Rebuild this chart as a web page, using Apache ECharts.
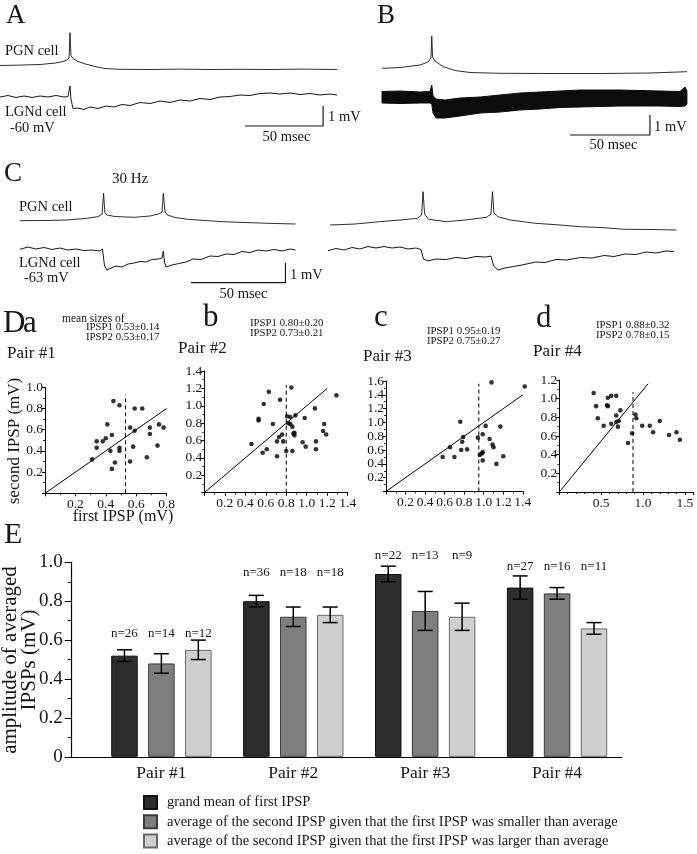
<!DOCTYPE html>
<html><head><meta charset="utf-8">
<script src="https://cdn.jsdelivr.net/npm/echarts@6/dist/echarts.min.js"></script>
<style>html,body{margin:0;padding:0;background:#fff}#c{width:697px;height:854px}</style>
</head><body><div id="c"></div><script>
// ---------------- DATA ----------------
// Panel A traces: [time ms, mV relative to baseline]
const pgnA = [[0,0.2],[12.8,0.22],[25.6,0.25],[35.2,0.32],[40.3,0.4],[42.9,0.48],[44.2,0.58],[44.8,1.84],[45.4,0.7],[46.7,0.55],[49.9,0.4],[54.4,0.28],[60.8,0.15],[67.2,0.05],[76.8,0.01],[96,0],[115.2,0.02],[134.4,0],[153.6,0.01],[172.8,0],[192,0.02],[215.7,0]];
const lgnA = [[0,0],[5.1,0.075],[10.2,-0.025],[15.4,0.05],[20.5,-0.025],[25.6,0.05],[30.7,0],[35.8,0.075],[41,0],[43.5,0.025],[44.8,0.55],[45.4,-0.1],[46.7,-0.575],[49.9,-0.55],[53.8,-0.625],[57.6,-0.5],[62.7,-0.575],[67.8,-0.45],[73,-0.5],[78.1,-0.375],[83.2,-0.425],[89.6,-0.275],[96,-0.325],[102.4,-0.2],[108.8,-0.275],[115.2,-0.15],[121.6,-0.2],[128,-0.075],[134.4,-0.125],[140.8,0],[147.2,0.025],[153.6,0.1],[160,0.075],[166.4,0.175],[172.8,0.2],[179.2,0.15],[185.6,0.2],[192,0.125],[198.4,0.175],[204.8,0.1],[211.2,0.15],[215.7,0.1]];
// Panel B traces
const pgnB = [[20,0.235],[31.3,0.275],[43.8,0.4],[48.8,0.55],[50.6,0.75],[51.1,1.85],[51.6,0.8],[53.1,0.6],[58.1,0.325],[65.6,0.125],[75,0.025],[93.8,-0.015],[125,-0.025],[156.3,-0.025],[187.5,0],[210.6,0.065]];
const lgnBUpper = [[20,0.3],[31.3,0.325],[43.8,0.275],[50,0.3],[51.1,0.625],[51.9,0.075],[53.8,-0.075],[59.4,-0.125],[68.8,-0.025],[81.3,0.025],[93.8,0.125],[106.3,0.225],[118.8,0.275],[131.3,0.325],[143.8,0.375],[156.3,0.375],[168.8,0.375],[181.3,0.35],[193.8,0.325],[206.3,0.3],[209.4,0.525],[210.6,0.325]];
const lgnBLower = [[20,-0.275],[31.3,-0.3],[43.8,-0.275],[50,-0.275],[51.1,-0.325],[51.9,-0.775],[53.8,-1.025],[59.4,-1.025],[68.8,-0.925],[81.3,-0.775],[93.8,-0.725],[106.3,-0.625],[118.8,-0.575],[131.3,-0.5],[143.8,-0.475],[156.3,-0.45],[168.8,-0.425],[181.3,-0.425],[193.8,-0.425],[206.3,-0.45],[209.4,-0.425],[210.6,-0.325]];
// Panel C traces (30 Hz)
const pgnC1 = [[10.6,0.065],[23.8,0.075],[35.4,0.1],[45,0.175],[51.8,0.265],[54,0.4],[54.8,1.435],[55.5,0.45],[56.6,0.35],[60.8,0.275],[70.9,0.235],[79.4,0.3],[83.8,0.4],[85.7,0.5],[86.4,1.435],[87.3,0.5],[88.6,0.35],[92.6,0.225],[99.2,0.135],[108.4,0.075],[118,0.015],[129.6,-0.025],[141.8,-0.065],[156.3,-0.1]];
const pgnC2 = [[174.6,-0.15],[187.8,-0.1],[200.8,0.015],[211.6,0.1],[220.8,0.185],[223,0.35],[223.8,1.515],[224.6,0.4],[226.7,0.135],[236.1,0.015],[246,0.1],[257.4,0.235],[259.7,0.4],[260.5,1.515],[261.3,0.45],[263.3,0.265],[269.8,0.1],[283.4,-0.065],[296.2,-0.15],[307,-0.235],[317.4,-0.275],[330.6,-0.365],[343.9,-0.375],[357.8,-0.4]];
const lgnC1 = [[10.6,0.035],[14.8,0.15],[19,0.05],[23.3,0.125],[27.5,0.025],[31.7,0.1],[36,0],[40.2,0.05],[44.4,-0.025],[48.7,0],[52.9,-0.05],[54.2,0.05],[54.8,0.1],[55.3,-0.8],[56.6,-1.0],[58.2,-0.925],[61.4,-0.8],[64.5,-0.85],[67.7,-0.7],[70.9,-0.65],[74.1,-0.575],[77.2,-0.6],[80.4,-0.475],[83.6,-0.45],[85.7,-0.4],[86.4,-0.05],[87,-0.6],[87.8,-0.85],[91,-0.75],[94.5,-0.675],[98.4,-0.6],[102.1,-0.45],[106.3,-0.475],[111.1,-0.3],[115.3,-0.325],[119.6,-0.2],[123.8,-0.225],[128,-0.075],[132.3,-0.125],[136.5,0],[140.7,-0.05],[144.9,0.025],[149.2,-0.05],[153.4,0.05],[156.3,0]];
const lgnC2 = [[173.5,-0.035],[177.7,0.075],[182,0],[186.2,0.125],[190.4,0.05],[194.7,0.175],[198.9,0.1],[203.1,0.175],[207.4,0.1],[211.6,0.15],[215.8,0.05],[220.1,0.1],[222.7,0.025],[223.4,0.05],[224,-0.45],[226.4,-0.55],[230.6,-0.45],[236.1,-0.475],[241.2,-0.375],[246.5,-0.425],[251.8,-0.325],[257.1,-0.35],[259.7,-0.3],[260.5,-0.25],[261.1,-0.8],[263.4,-1.0],[267.1,-0.9],[271.6,-0.825],[276.1,-0.75],[283.4,-0.6],[288.3,-0.625],[294.1,-0.475],[299.9,-0.5],[307,-0.375],[313.2,-0.4],[319.5,-0.275],[324.8,-0.325],[330.6,-0.2],[336.4,-0.225],[341.7,-0.1],[347,-0.15],[352.3,-0.05],[356.5,-0.075]];
const scaleBarMs = 50, scaleBarMv = 1;

// Panel D scatter: [first IPSP, second IPSP] (mV)
const pair1 = [[0.31,0.32],[0.34,0.43],[0.34,0.49],[0.38,0.49],[0.40,0.52],[0.41,0.65],[0.43,0.40],[0.44,0.55],[0.44,0.23],[0.45,0.87],[0.46,0.29],[0.49,0.83],[0.49,0.43],[0.49,0.40],[0.56,0.62],[0.56,0.30],[0.58,0.44],[0.59,0.80],[0.59,0.59],[0.64,0.80],[0.67,0.34],[0.69,0.62],[0.69,0.56],[0.74,0.45],[0.75,0.65],[0.78,0.62]];
const pair2 = [[0.46,0.56],[0.53,0.85],[0.53,0.83],[0.57,0.46],[0.58,1.02],[0.61,0.50],[0.63,1.16],[0.67,0.79],[0.71,0.42],[0.71,0.59],[0.73,0.64],[0.74,1.07],[0.76,0.67],[0.77,0.59],[0.80,0.48],[0.81,0.88],[0.82,0.80],[0.84,0.79],[0.85,1.21],[0.84,0.87],[0.86,0.48],[0.86,0.76],[0.87,0.68],[0.88,0.66],[0.88,0.69],[0.89,0.89],[0.96,0.58],[0.98,0.86],[0.99,0.53],[1.08,0.97],[1.09,0.59],[1.09,0.50],[1.16,0.71],[1.17,0.79],[1.19,0.67],[1.29,1.12]];
const pair3 = [[0.58,0.50],[0.655,0.64],[0.70,0.50],[0.76,1.01],[0.77,0.60],[0.78,0.72],[0.79,0.79],[0.83,0.61],[0.94,0.78],[0.96,0.53],[0.98,0.55],[0.99,0.83],[0.99,0.45],[0.99,0.57],[1.02,0.95],[1.06,0.76],[1.08,1.58],[1.09,0.68],[1.10,0.64],[1.13,0.40],[1.17,0.94],[1.20,0.51],[1.42,1.52]];
const pair4 = [[0.41,1.06],[0.44,0.92],[0.46,0.79],[0.53,0.71],[0.57,0.93],[0.58,1.01],[0.58,0.92],[0.62,0.73],[0.62,1.03],[0.68,1.03],[0.68,0.82],[0.68,0.75],[0.70,0.70],[0.71,0.76],[0.73,0.875],[0.82,0.525],[0.87,0.63],[0.91,0.83],[0.92,0.79],[0.99,0.71],[1.08,0.71],[1.12,0.64],[1.20,0.76],[1.31,0.61],[1.40,0.64],[1.44,0.56]];
const ipsp1Mean = [0.53,0.80,0.95,0.88], ipsp1SD = [0.14,0.20,0.19,0.32];
const ipsp2Mean = [0.53,0.73,0.75,0.78], ipsp2SD = [0.17,0.21,0.27,0.15];
const unityEnd = [[0.8,0.8],[1.2,1.2],[1.4,1.4],[1.06,1.16]];
const meanLineTop = [0.93,1.24,1.56,1.07];

// Panel E bar chart
const pairs = ['Pair #1','Pair #2','Pair #3','Pair #4'];
const legendNames = ['grand mean of first IPSP','average of the second IPSP given that the first IPSP was smaller than average','average of the second IPSP given that the first IPSP was larger than average'];
const grandMean = [0.52,0.80,0.94,0.87], grandErr = [0.03,0.03,0.04,0.06], nGrand = [26,36,22,27];
const smallerMean = [0.48,0.72,0.75,0.84], smallerErr = [0.05,0.05,0.10,0.03], nSmaller = [14,18,13,16];
const largerMean = [0.55,0.73,0.72,0.66], largerErr = [0.05,0.04,0.07,0.03], nLarger = [12,18,9,11];

// ---------------- LAYOUT / STYLE ----------------
const FONT = '"Liberation Serif","Times New Roman",serif';
const INK = '#161616';
const grids = [], xAxes = [], yAxes = [], series = [], graphics = [];
function addGrid(g, xa, ya){ grids.push(Object.assign({outerBoundsMode:'none', containLabel:false}, g)); const i = grids.length-1; xAxes.push(Object.assign({gridIndex:i}, xa)); yAxes.push(Object.assign({gridIndex:i}, ya)); return i; }
function hiddenAxis(max){ return {type:'value', min:0, max, show:false}; }
function trace(gi, pts, offset, width){
  series.push({type:'line', xAxisIndex:gi, yAxisIndex:gi, data: pts.map(p=>[p[0], p[1]+offset]), symbol:'none', showSymbol:false,
    lineStyle:{color:INK, width: width||1}, silent:true, animation:false, z:2});
}
function scaleBar(gi, t0, v0){
  series.push({type:'line', xAxisIndex:gi, yAxisIndex:gi, data:[[t0,v0],[t0+scaleBarMs,v0],[t0+scaleBarMs,v0+scaleBarMv]], symbol:'none',
    lineStyle:{color:INK, width:1.2}, silent:true, animation:false});
}
function txt(text, x, y, size, o){
  o = o || {};
  graphics.push({type:'text', x, y, rotation:o.rot||0, silent:true, z:10,
    style:{text, font:`${size}px ${FONT}`, fill:INK, align:o.align||'left', verticalAlign:'middle',
      textAlign:o.align||'left', textVerticalAlign:'middle', lineHeight:o.lh||undefined}});
}

// Trace grids
const gA = addGrid({left:0, top:0, width:340, height:150}, hiddenAxis(217.6), hiddenAxis(7.5));
const gB = addGrid({left:350, top:0, width:347, height:150}, hiddenAxis(216.9), hiddenAxis(7.5));
const gC = addGrid({left:0, top:160, width:697, height:150}, hiddenAxis(368.7), hiddenAxis(7.5));
trace(gA, pgnA, 4.025, 0.9); trace(gA, lgnA, 2.65, 1);
scaleBar(gA, 156.8, 1.2);
trace(gB, pgnB, 3.85, 0.9);
series.push({type:'custom', xAxisIndex:gB, yAxisIndex:gB, data:[[100,2.6]], clip:false, silent:true, animation:false,
  renderItem:(params, api)=>{
    const off = 2.625;
    const pts = lgnBUpper.map(p=>api.coord([p[0], p[1]+off])).concat(lgnBLower.slice().reverse().map(p=>api.coord([p[0], p[1]+off])));
    return {type:'polygon', shape:{points:pts}, style:{fill:'#0c0c0c', stroke:'#0c0c0c', lineWidth:1}};
  }});
scaleBar(gB, 137.5, 0.75);
trace(gC, pgnC1, 4.4, 0.9); trace(gC, pgnC2, 4.4, 0.9);
trace(gC, lgnC1, 3.0, 1); trace(gC, lgnC2, 3.0, 1);
scaleBar(gC, 101, 1.365);

// Scatter grids
function sAxis(max, interval, minorN, isX){
  return {type:'value', min:0, max, interval,
    axisLine:{show:true, onZero:false, lineStyle:{color:'#000', width:1}},
    axisTick:{show:true, length:3, lineStyle:{color:'#000', width:1}},
    minorTick:{show:true, splitNumber:minorN, length:2, lineStyle:{color:'#000', width:0.8}},
    splitLine:{show:false}, minorSplitLine:{show:false},
    axisLabel:{show:true, margin:isX?4:2, fontFamily:FONT, fontSize:13.5, color:INK,
      formatter: v => { if (v===0) return ''; const k = v/interval; if (Math.abs(k-Math.round(k))>1e-6) return ''; return v.toFixed(1); }}};
}
const scatterDefs = [
  {data:pair1, grid:{left:45, top:387.3, width:121.6, height:106}, xmax:0.8, xint:0.2, xminor:2, ymax:1.0, yint:0.2},
  {data:pair2, grid:{left:204.3, top:371, width:143.4, height:121.7}, xmax:1.4, xint:0.2, xminor:2, ymax:1.4, yint:0.2},
  {data:pair3, grid:{left:386, top:381, width:136.8, height:110.5}, xmax:1.4, xint:0.2, xminor:2, ymax:1.6, yint:0.2},
  {data:pair4, grid:{left:559.3, top:380, width:134, height:112}, xmax:1.6, xint:0.5, xminor:5, ymax:1.2, yint:0.2}
];
scatterDefs.forEach((d,i)=>{
  const gi = addGrid(d.grid, sAxis(d.xmax, d.xint, d.xminor, true), sAxis(d.ymax, d.yint, 2, false));
  series.push({type:'line', xAxisIndex:gi, yAxisIndex:gi, data:[[0,0], unityEnd[i]], symbol:'none', lineStyle:{color:'#000', width:1}, silent:true, animation:false});
  series.push({type:'line', xAxisIndex:gi, yAxisIndex:gi, data:[[ipsp1Mean[i],0],[ipsp1Mean[i],meanLineTop[i]]], symbol:'none', lineStyle:{color:'#000', width:1, type:[4,3]}, silent:true, animation:false});
  series.push({type:'scatter', xAxisIndex:gi, yAxisIndex:gi, data:d.data, symbol:'circle', symbolSize:4.6, itemStyle:{color:'#000'}, clip:false, silent:true, animation:false, z:3});
});

// Bar chart grid
const gE = addGrid({left:71.7, top:562.3, width:550, height:194.5},
  {type:'value', min:0.32, max:4.49, axisLine:{show:true, onZero:false, lineStyle:{color:'#000', width:1.2}}, axisTick:{show:false}, splitLine:{show:false},
   axisLabel:{customValues:[1,2,3,4], formatter: v => pairs[Math.round(v)-1] || '', fontFamily:FONT, fontSize:17.5, color:INK, margin:8}},
  {type:'value', min:0, max:1, interval:0.2, axisLine:{show:true, onZero:false, lineStyle:{color:'#000', width:1.2}},
   axisTick:{show:true, length:7, lineStyle:{color:'#000', width:1}}, minorTick:{show:true, splitNumber:2, length:4, lineStyle:{color:'#000', width:1}},
   splitLine:{show:false}, minorSplitLine:{show:false},
   axisLabel:{fontFamily:FONT, fontSize:19, color:INK, margin:9, formatter: v => v===0 ? '0' : v.toFixed(1)}});
const groupOffset = [-0.28, 0, 0.28];
const nLabelLevel = [0.636, 0.945, 1.037, 0.976];
const groups = [
  {name:legendNames[0], mean:grandMean, err:grandErr, n:nGrand, color:'#2d2d2d', border:'#111'},
  {name:legendNames[1], mean:smallerMean, err:smallerErr, n:nSmaller, color:'#7e7e7e', border:'#3a3a3a'},
  {name:legendNames[2], mean:largerMean, err:largerErr, n:nLarger, color:'#cfcfcf', border:'#6a6a6a'}
];
function errRender(params, api){
  const x = api.value(0), v = api.value(1), e = api.value(2), n = api.value(3), ly = api.value(4);
  const top = api.coord([x, v+e]), bot = api.coord([x, v-e]), lab = api.coord([x, ly]);
  const hw = 7.5, st = {stroke:'#000', lineWidth:1.5};
  return {type:'group', children:[
    {type:'line', shape:{x1:top[0], y1:top[1], x2:bot[0], y2:bot[1]}, style:st},
    {type:'line', shape:{x1:top[0]-hw, y1:top[1], x2:top[0]+hw, y2:top[1]}, style:st},
    {type:'line', shape:{x1:bot[0]-hw, y1:bot[1], x2:bot[0]+hw, y2:bot[1]}, style:st},
    {type:'text', x:lab[0], y:lab[1], style:{text:'n='+n, font:`13px ${FONT}`, fill:INK, align:'center', verticalAlign:'middle'}}
  ]};
}
groups.forEach((g,k)=>{
  series.push({type:'bar', name:g.name, xAxisIndex:gE, yAxisIndex:gE, data:g.mean.map((v,i)=>[i+1+groupOffset[k], v]),
    barWidth:26.5, barGap:'-100%', itemStyle:{color:g.color, borderColor:g.border, borderWidth:1}, silent:true, animation:false});
  series.push({type:'custom', xAxisIndex:gE, yAxisIndex:gE, data:g.mean.map((v,i)=>[i+1+groupOffset[k], v, g.err[i], g.n[i], nLabelLevel[i]]),
    renderItem:errRender, clip:false, silent:true, animation:false, z:5});
});

// Texts
txt('A', 6, 16, 27); txt('B', 377, 16, 27); txt('C', 4, 174, 27);
txt('PGN cell', 5, 51, 14.5); txt('LGNd cell', 5, 112.5, 14.5); txt('-60 mV', 10, 128, 14.5);
txt('1 mV', 328, 117, 14.5); txt('50 msec', 286.5, 137, 14.5, {align:'center'});
txt('1 mV', 654, 127, 14.5); txt('50 msec', 613.5, 145, 14.5, {align:'center'});
txt('30 Hz', 112, 179, 15);
txt('PGN cell', 19, 207, 14.5); txt('LGNd cell', 19, 263, 14.5); txt('-63 mV', 24, 278.5, 14.5);
txt('1 mV', 290, 275, 14.5); txt('50 msec', 243.5, 294, 14.5, {align:'center'});
txt('D', 3, 324, 31); txt('a', 23, 324, 31);
txt('b', 203, 318, 31); txt('c', 374, 318, 31); txt('d', 536, 319, 31);
txt('mean sizes of', 62, 319, 11.5);
const statPos = [[86,327.5],[250,323.5],[427,331.5],[596,325.5]];
statPos.forEach((p,i)=>{
  txt(`IPSP1 ${ipsp1Mean[i].toFixed(2)}±${ipsp1SD[i].toFixed(2)}`, p[0], p[1], 10.8);
  txt(`IPSP2 ${ipsp2Mean[i].toFixed(2)}±${ipsp2SD[i].toFixed(2)}`, p[0], p[1]+10, 10.8);
});
const pairTitlePos = [[7,353.5],[178,348.5],[363,356.5],[533,351.5]];
pairTitlePos.forEach((p,i)=> txt(pairs[i], p[0], p[1], 17));
txt('second IPSP (mV)', 14.5, 441, 17, {align:'center', rot:Math.PI/2});
txt('first IPSP (mV)', 123, 516.5, 16, {align:'center'});
txt('E', 4, 535, 30);
txt('amplitude of averaged\nIPSPs (mV)', 20, 660, 21, {align:'center', rot:Math.PI/2, lh:19});

const chart = echarts.init(document.getElementById('c'), null, {renderer:'canvas'});
chart.setOption({
  animation:false, backgroundColor:'#ffffff',
  grid:grids, xAxis:xAxes, yAxis:yAxes, series,
  legend:{data:legendNames, orient:'vertical', left:143, top:795, height:60, padding:0, itemWidth:13, itemHeight:13, itemGap:4.3, icon:'rect', selectedMode:false,
    textStyle:{fontFamily:FONT, fontSize:14.5, color:INK, lineHeight:15, padding:[0,0,0,5]}},
  graphic:{elements:graphics}
});
</script></body></html>
